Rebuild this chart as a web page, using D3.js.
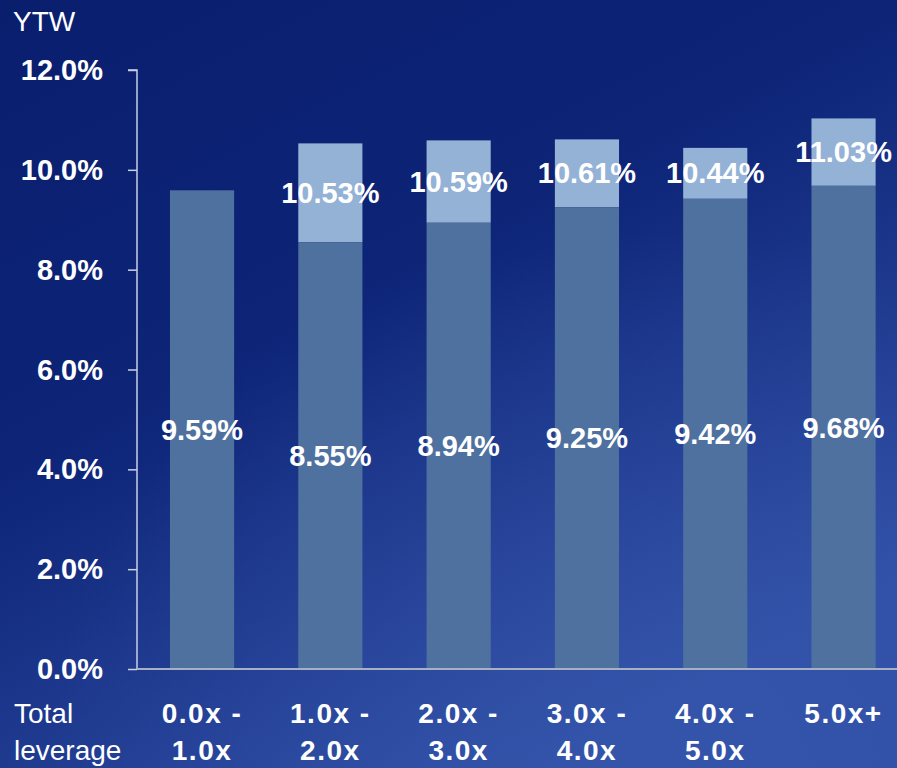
<!DOCTYPE html>
<html><head><meta charset="utf-8">
<script src="https://cdn.jsdelivr.net/npm/d3@7/dist/d3.min.js"></script>
<style>html,body{margin:0;padding:0;background:#0b2172;}svg{display:block;}</style>
</head><body>
<svg id="c" width="897" height="768"></svg>
<script>
const categories = [["0.0x -","1.0x"],["1.0x -","2.0x"],["2.0x -","3.0x"],["3.0x -","4.0x"],["4.0x -","5.0x"],["5.0x+",""]];
const baseValues = [9.59, 8.55, 8.94, 9.25, 9.42, 9.68];
const totalValues = [null, 10.53, 10.59, 10.61, 10.44, 11.03];
const yTicks = [0, 2, 4, 6, 8, 10, 12];

const svg = d3.select("#c");
const W = 897, H = 768;
const defs = svg.append("defs");
const g1 = defs.append("linearGradient").attr("id","bg").attr("x1","0").attr("y1","0").attr("x2","0.6").attr("y2","1");
g1.append("stop").attr("offset","0").attr("stop-color","#0a1e6e");
g1.append("stop").attr("offset","0.45").attr("stop-color","#0d2477");
g1.append("stop").attr("offset","1").attr("stop-color","#2f4fa6");
svg.append("rect").attr("width",W).attr("height",H).attr("fill","url(#bg)");
const g2 = defs.append("radialGradient").attr("id","glow").attr("cx","0.75").attr("cy","1.0").attr("r","0.7");
g2.append("stop").attr("offset","0").attr("stop-color","#3a5ab0").attr("stop-opacity","0.5");
g2.append("stop").attr("offset","1").attr("stop-color","#3a5ab0").attr("stop-opacity","0");
svg.append("rect").attr("width",W).attr("height",H).attr("fill","url(#glow)");

const x0 = 137, y0 = 669;
const x = d3.scaleBand().domain(d3.range(categories.length)).range([x0, x0 + 771.6])
  .paddingInner(0.5).paddingOuter(0.257);
const y = d3.scaleLinear().domain([0, 12]).range([y0, 70]);

const font = "'Liberation Sans', Arial, sans-serif";

// bars
const bars = svg.append("g");
baseValues.forEach((v, i) => {
  const t = totalValues[i];
  if (t != null) {
    bars.append("rect").attr("x", x(i)).attr("width", x.bandwidth())
      .attr("y", y(t)).attr("height", y(v) - y(t)).attr("fill", "#93b2d6");
  }
  bars.append("rect").attr("x", x(i)).attr("width", x.bandwidth())
    .attr("y", y(v)).attr("height", y(0) - y(v)).attr("fill", "#4f71a0");
});

// axes
const yAxis = svg.append("g").attr("transform", `translate(${x0},0)`)
  .call(d3.axisLeft(y).tickValues(yTicks).tickSize(9).tickFormat(d => d3.format(".1f")(d) + "%"));
yAxis.select(".domain").attr("stroke", "#c8d0e4").attr("stroke-width", 1.5).attr("d", `M-9,${y(12)}H0V${y(0)}`);
yAxis.selectAll(".tick line").attr("stroke", "#c8d0e4").attr("stroke-width", 1.5);
yAxis.selectAll(".tick text").attr("fill", "#ffffff").attr("font-family", font)
  .attr("font-weight", "bold").attr("font-size", 29).attr("x", -34).attr("dy", "0.33em");

svg.append("line").attr("x1", x0).attr("x2", W).attr("y1", y0).attr("y2", y0)
  .attr("stroke", "#a8b0c4").attr("stroke-width", 2);

// category labels
const xl = svg.append("g");
categories.forEach((c, i) => {
  const cx = x(i) + x.bandwidth() / 2;
  c.forEach((line, k) => {
    if (!line) return;
    xl.append("text").attr("x", cx).attr("y", 723 + k * 37).attr("text-anchor", "middle")
      .attr("fill", "#fff").attr("font-family", font).attr("font-weight", "bold").attr("font-size", 28)
      .attr("letter-spacing", "1.5px").text(line);
  });
});
svg.append("text").attr("x", 14).attr("y", 723).attr("fill", "#fff").attr("font-family", font).attr("font-size", 28).text("Total");
svg.append("text").attr("x", 14).attr("y", 760).attr("fill", "#fff").attr("font-family", font).attr("font-size", 28).text("leverage");
svg.append("text").attr("x", 13).attr("y", 31).attr("fill", "#fff").attr("font-family", font).attr("font-size", 28).text("YTW");

// value labels
const lbl = svg.append("g").attr("font-family", font).attr("font-weight", "bold").attr("font-size", 29)
  .attr("fill", "#fff").attr("text-anchor", "middle");
baseValues.forEach((v, i) => {
  const cx = x(i) + x.bandwidth() / 2;
  lbl.append("text").attr("x", cx).attr("y", (y(v) + y(0)) / 2).attr("dy", "0.35em").text(d3.format(".2f")(v) + "%");
  const t = totalValues[i];
  if (t != null) {
    lbl.append("text").attr("x", cx).attr("y", (y(v) + y(t)) / 2).attr("dy", "0.35em").text(d3.format(".2f")(t) + "%");
  }
});
</script>
</body></html>
